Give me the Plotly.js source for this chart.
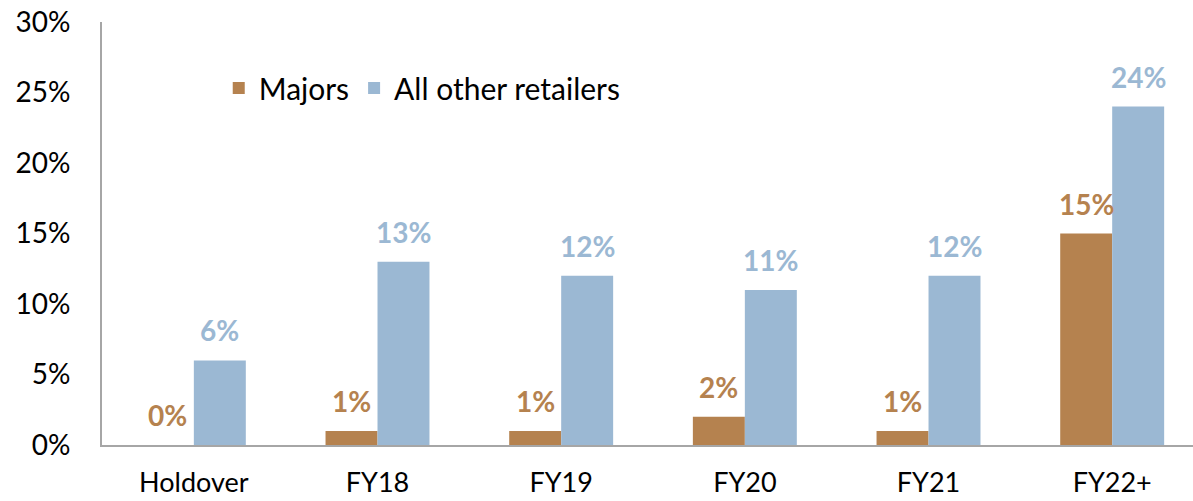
<!DOCTYPE html>
<html><head><meta charset="utf-8">
<script src="https://cdn.plot.ly/plotly-3.0.1.min.js"></script>
<style>html,body{margin:0;padding:0;background:#fff}#chart{width:1193px;height:501px}</style>
</head><body><div id="chart"></div>
<script>
const categories = ["Holdover", "FY18", "FY19", "FY20", "FY21", "FY22+"];
const majors = [0, 1, 1, 2, 1, 15];
const others = [6, 13, 12, 11, 12, 24];
const seriesNames = ["Majors", "All other retailers"];
const colors = ["#b5824f", "#9bb8d3"];
const yTicks = [0, 5, 10, 15, 20, 25, 30];

const FONT = "Lato, 'Open Sans', sans-serif";
const traces = [
  {type: "bar", name: seriesNames[0], x: categories, y: majors, marker: {color: colors[0]}, hoverinfo: "none"},
  {type: "bar", name: seriesNames[1], x: categories, y: others, marker: {color: colors[1]}, hoverinfo: "none"}
];
const annotations = [];
[majors, others].forEach((vals, s) => {
  vals.forEach((v, i) => {
    annotations.push({
      x: categories[i], y: v, xref: "x", yref: "y",
      xshift: s === 0 ? -26 : 26, yshift: 11,
      yanchor: "bottom", showarrow: false,
      text: "<b>" + v + "%</b>",
      font: {family: FONT, size: 28, color: colors[s]}
    });
  });
});
const layout = {
  width: 1193, height: 501,
  margin: {l: 102, r: 0, t: 22, b: 56, pad: 0},
  paper_bgcolor: "#fff", plot_bgcolor: "#fff",
  font: {family: FONT, size: 28, color: "#000"},
  barmode: "group", bargap: 0.434, bargroupgap: 0,
  showlegend: true,
  legend: {orientation: "h", x: 0.107, xanchor: "left", y: 0.844, yanchor: "middle",
           font: {family: FONT, size: 30, color: "#000"}, bgcolor: "rgba(0,0,0,0)", itemwidth: 30},
  xaxis: {type: "category", range: [-0.5, 5.44], showline: true, linecolor: "#a6a6a6", linewidth: 2,
          showgrid: false, zeroline: false, ticks: "", ticklabelstandoff: 13,
          tickfont: {family: FONT, size: 27, color: "#000"}},
  yaxis: {range: [0, 30], tickvals: yTicks, ticktext: yTicks.map(t => t + "%"), showline: true,
          linecolor: "#a6a6a6", linewidth: 2, showgrid: false, zeroline: false, ticks: "",
          ticklabelstandoff: 24, tickfont: {family: FONT, size: 28, color: "#000"}},
  annotations: annotations
};
Plotly.newPlot("chart", traces, layout, {displayModeBar: false, staticPlot: true});
</script></body></html>
